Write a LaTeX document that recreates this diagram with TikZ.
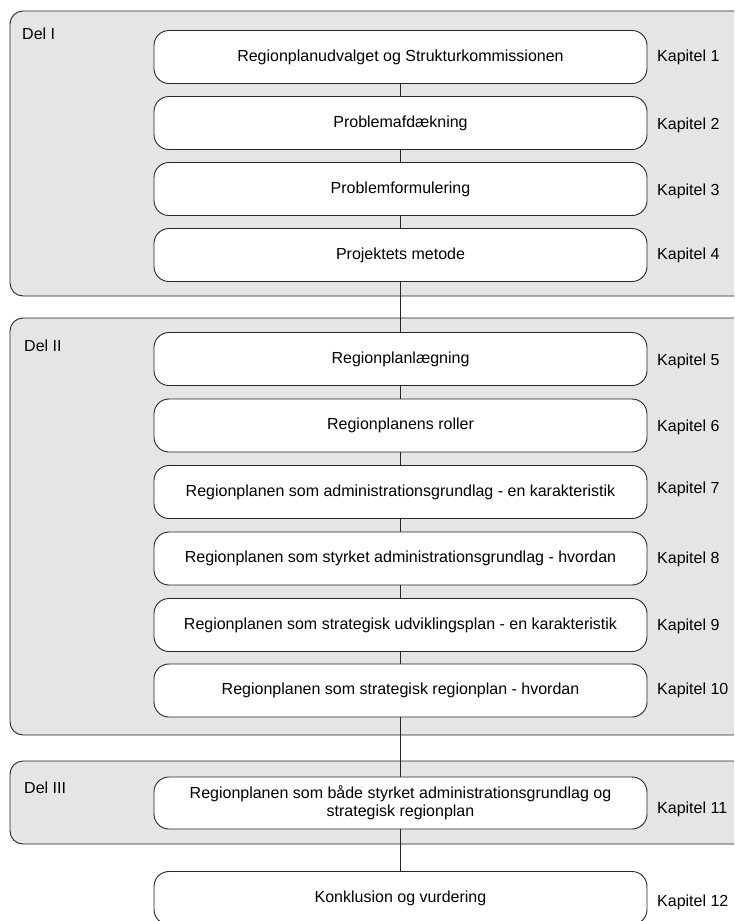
\documentclass[tikz,border=0pt]{standalone}
\usepackage{fontspec}
\setmainfont{Liberation Sans}
\begin{document}
\begin{tikzpicture}[x=1pt,y=-1pt,
  grp/.style={draw=black!85, fill=black!10, rounded corners=13pt, line width=0.9pt},
  chap/.style={draw=black!85, fill=white, rounded corners=15pt, line width=0.9pt,
    minimum width=493pt, minimum height=53pt, inner sep=0pt, align=center,
    font=\fontsize{16}{18}\selectfont},
  kap/.style={anchor=west, inner sep=0pt, font=\fontsize{16}{18}\selectfont},
  del/.style={anchor=base west, inner sep=0pt, font=\fontsize{16}{18}\selectfont},
  conn/.style={draw=black!85, line width=0.9pt}]
\useasboundingbox (0,0) rectangle (734,921);
\clip (0,0) rectangle (734,921);
% groups
\draw[grp] (10,11) rectangle (760,296);
\draw[grp] (10,318) rectangle (760,735);
\draw[grp] (10,761) rectangle (760,844);
\node[del] (d1) at (22,39) {Del I};
\node[del] (d2) at (24,351) {Del II};
\node[del] (d3) at (24,793) {Del III};
% chapter boxes
\node[chap] (b1) at (400.5,57) {Regionplanudvalget og Strukturkommissionen};
\node[chap] (b2) at (400.5,123) {Problemafdækning};
\node[chap] (b3) at (400.5,189) {Problemformulering};
\node[chap] (b4) at (400.5,255) {Projektets metode};
\node[chap] (b5) at (400.5,359) {Regionplanlægning};
\node[chap] (b6) at (400.5,425.5) {Regionplanens roller};
\node[chap] (b7) at (400.5,492) {Regionplanen som administrationsgrundlag - en karakteristik};
\node[chap] (b8) at (400.5,558.5) {Regionplanen som styrket administrationsgrundlag - hvordan};
\node[chap] (b9) at (400.5,625) {Regionplanen som strategisk udviklingsplan - en karakteristik};
\node[chap] (b10) at (400.5,690.5) {Regionplanen som strategisk regionplan - hvordan};
\node[chap, minimum height=52pt] (b11) at (400.5,803) {Regionplanen som både styrket administrationsgrundlag og\\strategisk regionplan};
\node[chap] (b12) at (400.5,898) {Konklusion og vurdering};
% connectors
\foreach \a/\b in {b1/b2,b2/b3,b3/b4,b4/b5,b5/b6,b6/b7,b7/b8,b8/b9,b9/b10,b10/b11,b11/b12}
  \draw[conn] (\a.south) -- (\b.north);
% chapter labels
\node[kap] (k1) at (657,57) {Kapitel 1};
\node[kap] (k2) at (657,125) {Kapitel 2};
\node[kap] (k3) at (657,191) {Kapitel 3};
\node[kap] (k4) at (657,255) {Kapitel 4};
\node[kap] (k5) at (657,361) {Kapitel 5};
\node[kap] (k6) at (657,427) {Kapitel 6};
\node[kap] (k7) at (657,489) {Kapitel 7};
\node[kap] (k8) at (657,559) {Kapitel 8};
\node[kap] (k9) at (657,626) {Kapitel 9};
\node[kap] (k10) at (657,690) {Kapitel 10};
\node[kap] (k11) at (657,809) {Kapitel 11};
\node[kap] (k12) at (657,902) {Kapitel 12};
\end{tikzpicture}
\end{document}
